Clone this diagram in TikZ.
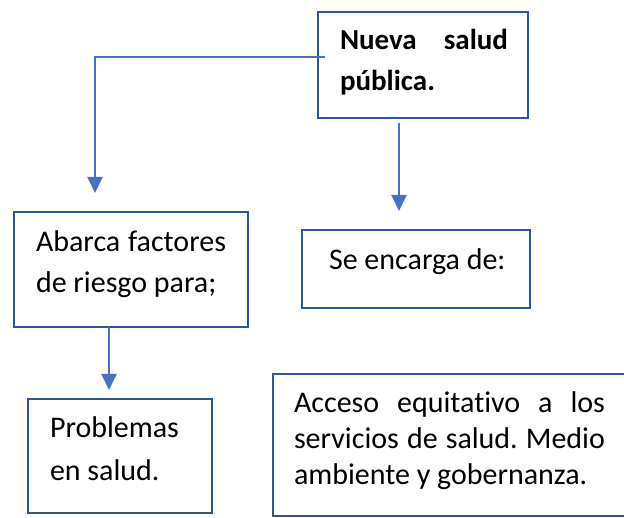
\documentclass[tikz,border=0pt]{standalone}
\usepackage{fontspec}
\setmainfont{Carlito}[Ligatures=NoCommon]
\usetikzlibrary{arrows.meta}
\definecolor{boxblue}{RGB}{47,85,151}
\definecolor{arrblue}{RGB}{68,114,196}
\tikzset{
  box/.style={draw=boxblue, line width=2.2pt, rectangle, inner sep=0pt, outer sep=0pt},
  txt/.style={anchor=base west, inner sep=0pt, outer sep=0pt, font=\fontsize{30}{41}\selectfont, text=black},
  btxt/.style={txt, font=\fontsize{29}{41}\selectfont\bfseries},
  arr/.style={draw=arrblue, line width=2pt, -{Triangle[width=15pt,length=16pt]}}
}
\begin{document}
\begin{tikzpicture}[x=1pt,y=-1pt]
\useasboundingbox (0,0) rectangle (624,518);
% boxes
\node[box, minimum width=210pt, minimum height=106pt] (b1) at (423,65) {};
\node[box, minimum width=234pt, minimum height=115pt] (b2) at (131,269.5) {};
\node[box, minimum width=228pt, minimum height=78pt] (b3) at (416,269) {};
\node[box, minimum width=184pt, minimum height=114pt] (b4) at (120,456) {};
\node[box, minimum width=372pt, minimum height=142pt] (b5) at (459,445) {};
% texts
\node[btxt] (t1a) at (340,50) {\hbox to 168pt{Nueva\hfil salud}};
\node[btxt] (t1b) at (340,91) {pública.};
\node[txt] (t2a) at (36,252) {\hbox to 190pt{Abarca\hfil factores}};
\node[txt] (t2b) at (36,293) {de riesgo para;};
\node[txt] (t3) at (329,270) {Se encarga de:};
\node[txt] (t4a) at (50,438) {Problemas};
\node[txt] (t4b) at (50,480) {en salud.};
\node[txt] (t5a) at (294,413) {\hbox to 311pt{Acceso\hfil equitativo\hfil a\hfil los}};
\node[txt] (t5b) at (294,449) {\hbox to 311pt{servicios\hfil de\hfil salud.\hfil Medio}};
\node[txt] (t5c) at (294,485) {ambiente y gobernanza.};
% connectors
\draw[arr] ([xshift=7pt,yshift=8pt]b1.west) -| ([xshift=-36pt,yshift=19pt]b2.north);
\draw[arr] ([xshift=-24pt,yshift=-5pt]b1.south) -- ([xshift=-17pt,yshift=19pt]b3.north);
\draw[arr] ([xshift=-22pt]b2.south) -- ([xshift=-11pt,yshift=9pt]b4.north);
\end{tikzpicture}
\end{document}
